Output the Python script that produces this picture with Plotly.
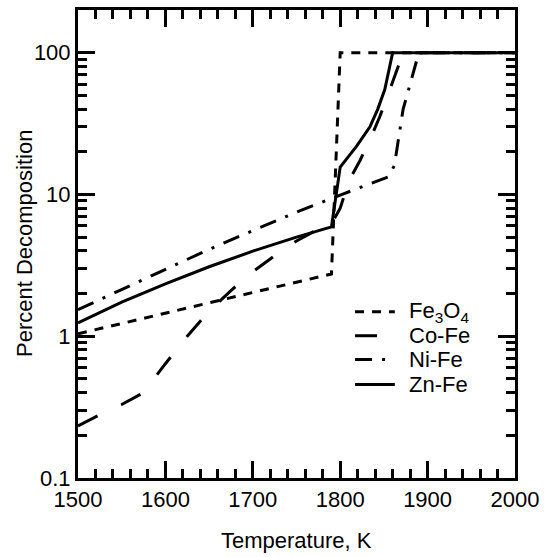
import plotly.graph_objects as go

# temperatures (K) and percent decomposition
fe3o4_T = [1500, 1650, 1790, 1800, 2000]
fe3o4_P = [1.04, 1.72, 2.75, 100, 100]

cofe_T = [1500, 1525, 1550, 1575, 1600, 1625, 1650, 1675, 1700, 1725, 1750,
          1775, 1790, 1800, 1810, 1823, 1836, 1845, 1855, 1864, 1872, 2000]
cofe_P = [0.233, 0.28, 0.33, 0.40, 0.64, 1.0, 1.5, 2.1, 2.85, 3.7, 4.7,
          5.7, 6.2, 8.0, 12.5, 17.5, 26, 35, 51, 72, 100, 100]

nife_T = [1500, 1550, 1600, 1650, 1700, 1750, 1800, 1855, 1862, 1866, 1872,
          1880, 1890, 2000]
nife_P = [1.54, 2.13, 2.95, 4.1, 5.56, 7.5, 9.9, 13.3, 16, 23, 40, 60, 100, 100]

znfe_T = [1500, 1550, 1600, 1650, 1700, 1750, 1790, 1800, 1819, 1834, 1843,
          1851, 1860, 2000]
znfe_P = [1.24, 1.74, 2.34, 3.09, 3.98, 5.0, 5.9, 15.6, 22, 30, 40, 55, 100, 100]

names = ["Fe<sub>3</sub>O<sub>4</sub>", "Co-Fe", "Ni-Fe", "Zn-Fe"]
temps = [fe3o4_T, cofe_T, nife_T, znfe_T]
pcts = [fe3o4_P, cofe_P, nife_P, znfe_P]
dashes = ["9px,8px", "22px,26px", "17px,10px,3px,10px", "solid"]

font = "Liberation Sans, Arial, sans-serif"
black = "black"

fig = go.Figure()
for name, t, p, dash in zip(names, temps, pcts, dashes):
    fig.add_trace(go.Scatter(x=t, y=p, mode="lines", name=name, showlegend=False,
                             line=dict(color=black, width=3, dash=dash)))

axis_common = dict(showline=True, linecolor=black, linewidth=3,
                   mirror="allticks", ticks="inside", ticklen=17, tickwidth=2.5,
                   tickcolor=black, showgrid=False, zeroline=False,
                   tickfont=dict(size=22, color=black, family=font))

fig.update_xaxes(range=[1500, 2000], dtick=100, tick0=1500,
                 minor=dict(ticks="inside", ticklen=9, tickwidth=2.5, tickcolor=black, dtick=20),
                 **axis_common)

minor_y = [m * 10 ** e for e in (-1, 0, 1) for m in range(2, 10)] + [200]
fig.update_yaxes(type="log", range=[-1, 2.301], tickvals=[0.1, 1, 10, 100],
                 ticktext=["0.1", "1", "10", "100"],
                 minor=dict(ticks="inside", ticklen=9, tickwidth=2.5, tickcolor=black,
                            tickvals=minor_y),
                 **axis_common)

# axis titles
fig.add_annotation(text="Temperature, K", xref="paper", yref="paper", x=0.5, y=0,
                   yshift=-62, showarrow=False, xanchor="center", yanchor="middle",
                   font=dict(size=22, color=black, family=font))
fig.add_annotation(text="Percent Decomposition", xref="paper", yref="paper", x=0, y=0.5,
                   xshift=-54, textangle=-90, showarrow=False, xanchor="center",
                   yanchor="middle", font=dict(size=22, color=black, family=font))

# legend drawn inside the plot, lower right
leg_y = [0.355, 0.304, 0.253, 0.200]
for name, dash, yy in zip(names, dashes, leg_y):
    fig.add_shape(type="line", xref="paper", yref="paper", x0=0.634, x1=0.725,
                  y0=yy, y1=yy, line=dict(color=black, width=3, dash=dash))
    fig.add_annotation(text=name, xref="paper", yref="paper", x=0.752, y=yy,
                       showarrow=False, xanchor="left", yanchor="middle",
                       font=dict(size=22, color=black, family=font))

fig.update_layout(
    width=546, height=557,
    margin=dict(l=78, r=28, t=7, b=79),
    paper_bgcolor="white", plot_bgcolor="white",
    font=dict(family=font, color=black),
    showlegend=False,
)

fig.write_html("out.html", config={"displayModeBar": False},
               post_script="document.body.style.margin='0';document.body.style.overflow='hidden';")
